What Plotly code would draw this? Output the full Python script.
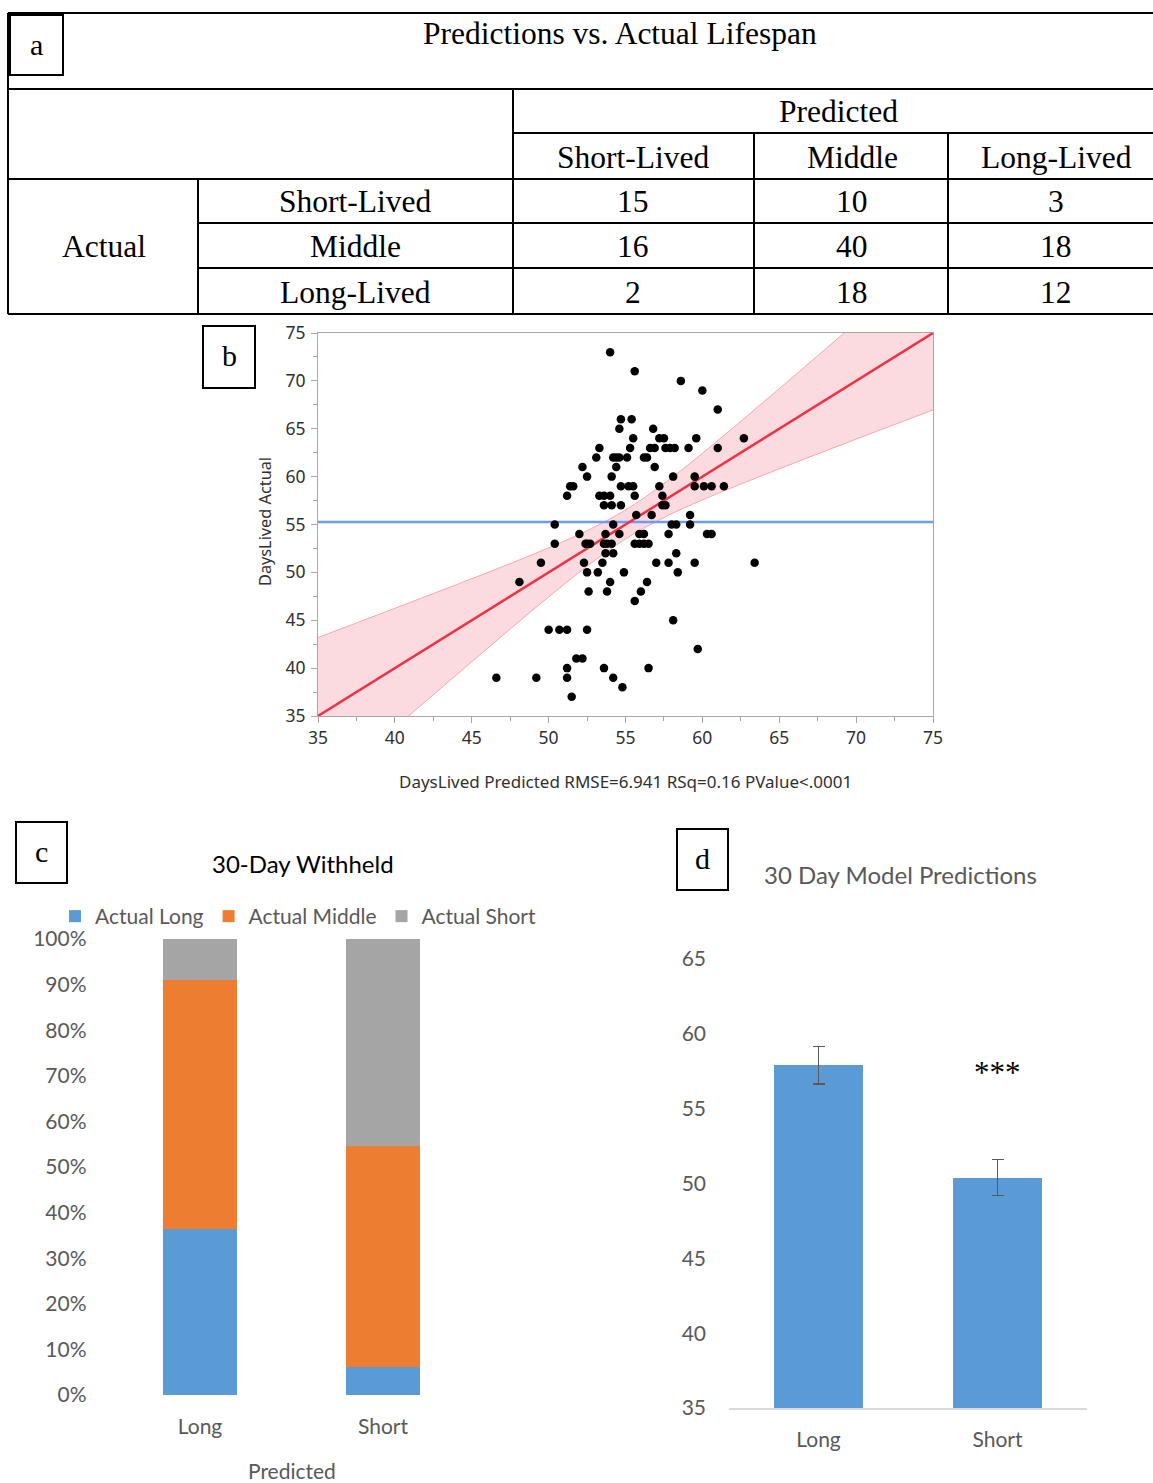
import plotly.graph_objects as go

W, H = 1153, 1483

# ---------------- data ----------------
table_title = "Predictions vs. Actual Lifespan"
pred_classes = ["Short-Lived", "Middle", "Long-Lived"]
actual_classes = ["Short-Lived", "Middle", "Long-Lived"]
row_actual_short = [15, 10, 3]
row_actual_middle = [16, 40, 18]
row_actual_long = [2, 18, 12]

scatter_pred = [
    54.0, 55.6, 58.6, 60.0, 61.0,
    54.7, 55.4,
    54.6, 56.8,
    55.5, 57.2, 57.5, 59.6, 62.7,
    53.3, 55.3, 56.6, 56.9, 57.6, 57.9, 58.2, 59.1, 61.0,
    53.1, 54.2, 54.4, 54.6, 55.1, 56.2, 56.4,
    52.2, 54.4, 56.9,
    52.5, 54.1, 58.1, 59.5,
    51.4, 51.6, 54.7, 55.2, 55.5, 57.2, 59.5, 60.1, 60.6, 61.4,
    51.2, 53.3, 53.6, 54.0, 55.6, 57.4,
    53.6, 54.1, 54.7, 57.4, 57.6,
    55.7, 56.7, 59.2,
    50.4, 54.2, 58.0, 58.3, 59.2,
    52.0, 53.7, 54.6, 55.9, 56.2, 57.8, 60.3, 60.6,
    50.4, 52.4, 52.5, 52.7, 53.6, 53.8, 54.1, 55.6, 55.9, 56.2, 56.5,
    53.7, 54.2, 58.3,
    49.5, 52.3, 53.5, 57.0, 57.8, 59.5, 63.4,
    52.5, 53.2, 54.9, 58.4,
    48.1, 54.0, 56.4,
    52.6, 53.8, 56.0,
    55.6,
    58.1,
    50.0, 50.7, 51.2, 52.5,
    59.7,
    51.8, 52.2,
    51.2, 53.6, 56.5,
    46.6, 49.2, 51.2, 54.2,
    54.8,
    51.5,
]
scatter_actual = [
    73, 71, 70, 69, 67,
    66, 66,
    65, 65,
    64, 64, 64, 64, 64,
    63, 63, 63, 63, 63, 63, 63, 63, 63,
    62, 62, 62, 62, 62, 62, 62,
    61, 61, 61,
    60, 60, 60, 60,
    59, 59, 59, 59, 59, 59, 59, 59, 59, 59,
    58, 58, 58, 58, 58, 58,
    57, 57, 57, 57, 57,
    56, 56, 56,
    55, 55, 55, 55, 55,
    54, 54, 54, 54, 54, 54, 54, 54,
    53, 53, 53, 53, 53, 53, 53, 53, 53, 53, 53,
    52, 52, 52,
    51, 51, 51, 51, 51, 51, 51,
    50, 50, 50, 50,
    49, 49, 49,
    48, 48, 48,
    47,
    45,
    44, 44, 44, 44,
    42,
    41, 41,
    40, 40, 40,
    39, 39, 39, 39,
    38,
    37,
]
mean_actual = 55.25
fit_x = [35, 75]
fit_y = [35, 75]
band_x = [35, 37.5, 40, 42.5, 45, 47.5, 50, 52.5, 55, 57.5, 60, 62.5, 65, 67.5, 70, 72.5, 75]
band_upper = [43.20, 44.72, 46.25, 47.79, 49.34, 50.92, 52.57, 54.36, 56.52, 59.27,
              62.44, 65.78, 69.19, 72.63, 76.09, 79.56, 83.04]
band_lower = [26.80, 30.28, 33.75, 37.21, 40.66, 44.08, 47.43, 50.64, 53.48, 55.73,
              57.56, 59.22, 60.81, 62.37, 63.91, 65.44, 66.96]
scatter_xtitle = "DaysLived Predicted RMSE=6.941 RSq=0.16 PValue<.0001"
scatter_ytitle = "DaysLived Actual"

withheld_categories = ["Long", "Short"]
withheld_actual_long = [12, 2]
withheld_actual_middle = [18, 16]
withheld_actual_short = [3, 15]

model_categories = ["Long", "Short"]
model_means = [57.9, 50.4]
model_errors = [1.25, 1.2]

# ---------------- helpers ----------------
def px(x):
    return x / W

def py(y):
    return 1 - y / H

SERIF = "Liberation Serif"
SANS = "Lato"
GREY_TXT = "#595959"
BLUE = "#5B9BD5"
ORANGE = "#ED7D31"
GREY = "#A5A5A5"

fig = go.Figure()
shapes = []
annotations = []

def hline(x0, x1, y, width=2):
    shapes.append(dict(type="line", xref="paper", yref="paper",
                       x0=px(x0), x1=px(x1), y0=py(y), y1=py(y),
                       line=dict(color="black", width=width)))

def vline(x, y0, y1, width=2):
    shapes.append(dict(type="line", xref="paper", yref="paper",
                       x0=px(x), x1=px(x), y0=py(y0), y1=py(y1),
                       line=dict(color="black", width=width)))

def text(x, y, s, size=31.5, family=SERIF, color="black", xanchor="center"):
    annotations.append(dict(xref="paper", yref="paper", x=px(x), y=py(y), text=s,
                            showarrow=False, xanchor=xanchor, yanchor="middle",
                            font=dict(family=family, size=size, color=color)))

def letter_box(x0, y0, x1, y1, letter):
    shapes.append(dict(type="rect", xref="paper", yref="paper",
                       x0=px(x0), x1=px(x1), y0=py(y1), y1=py(y0),
                       line=dict(color="black", width=2)))
    text((x0 + x1) / 2, (y0 + y1) / 2 - 1, letter, size=30)

# ---------------- panel a: table ----------------
R = W
hline(8, R, 13)
hline(8, R, 89)
hline(513, R, 133)
hline(8, R, 179)
hline(198, R, 223)
hline(198, R, 268)
hline(8, R, 314)
vline(8, 13, 314)
vline(513, 89, 314)
vline(754, 133, 314)
vline(948, 133, 314)
vline(198, 179, 314)
letter_box(10, 15, 63, 75, "a")
text(620, 34, table_title)
text(838, 112, "Predicted")
col_x = [633, 852, 1056]
for cx, lab in zip(col_x, pred_classes):
    text(cx, 157, lab)
row_y = [202, 247, 292]
for ry, lab in zip(row_y, actual_classes):
    text(355, ry, lab)
text(104, 247, "Actual")
for ry, row in zip(row_y, [row_actual_short, row_actual_middle, row_actual_long]):
    for cx, v in zip(col_x, row):
        text(cx, ry, str(v))

# ---------------- panel b: scatter ----------------
fig.add_trace(go.Scatter(
    x=band_x, y=band_lower, mode="lines",
    line=dict(color="rgba(240,110,120,0.55)", width=1, shape="spline"),
    hoverinfo="skip", showlegend=False, xaxis="x", yaxis="y"))
fig.add_trace(go.Scatter(
    x=band_x, y=band_upper, mode="lines", fill="tonexty",
    fillcolor="rgba(248,170,180,0.42)",
    line=dict(color="rgba(240,110,120,0.55)", width=1, shape="spline"),
    hoverinfo="skip", showlegend=False, xaxis="x", yaxis="y"))
fig.add_trace(go.Scatter(
    x=[35, 75], y=[mean_actual, mean_actual], mode="lines",
    line=dict(color="#6E9BF0", width=2.5), showlegend=False, xaxis="x", yaxis="y"))
fig.add_trace(go.Scatter(
    x=fit_x, y=fit_y, mode="lines",
    line=dict(color="#EE3344", width=2.5), showlegend=False, xaxis="x", yaxis="y"))
fig.add_trace(go.Scatter(
    x=scatter_pred, y=scatter_actual, mode="markers",
    marker=dict(color="black", size=8.5), showlegend=False, xaxis="x", yaxis="y",
    cliponaxis=False))

axis_b = dict(range=[35, 75], dtick=5, tick0=35, showgrid=False, zeroline=False,
              showline=True, linecolor="#A8A8A8", linewidth=1, mirror=True,
              ticks="outside", ticklen=6, tickcolor="#A8A8A8", automargin=False,
              minor=dict(ticks="outside", dtick=2.5, ticklen=4, tickcolor="#A8A8A8"),
              tickfont=dict(family="Noto Sans", size=17.5, color="#303030"))
fig.update_layout(
    xaxis=dict(axis_b, domain=[px(318), px(933)], anchor="y", ticklabelstandoff=0),
    yaxis=dict(axis_b, domain=[py(716), py(333)], anchor="x", ticklabelstandoff=2),
)
letter_box(203, 326, 255, 388, "b")
annotations.append(dict(xref="paper", yref="paper", x=px(265), y=py(522), text=scatter_ytitle,
                        textangle=-90, showarrow=False, xanchor="center", yanchor="middle",
                        font=dict(family="Noto Sans", size=16.3, color="#303030")))
text(625, 781, scatter_xtitle, size=17, family="Noto Sans", color="#303030")

# ---------------- panel c: 100% stacked bars ----------------
totals = [a + b + c for a, b, c in zip(withheld_actual_long, withheld_actual_middle, withheld_actual_short)]
pct_long = [v / t * 100 for v, t in zip(withheld_actual_long, totals)]
pct_mid = [v / t * 100 for v, t in zip(withheld_actual_middle, totals)]
pct_short = [v / t * 100 for v, t in zip(withheld_actual_short, totals)]
for name, vals, col in [("Actual Long", pct_long, BLUE),
                        ("Actual Middle", pct_mid, ORANGE),
                        ("Actual Short", pct_short, GREY)]:
    fig.add_trace(go.Bar(x=withheld_categories, y=vals, name=name, marker_color=col,
                         marker_line_width=0, width=0.4, xaxis="x2", yaxis="y2"))

fig.update_layout(
    xaxis2=dict(domain=[px(108.5), px(474.5)], anchor="y2", showline=False, showgrid=False,
                ticks="", ticklabelstandoff=17, automargin=False,
                tickfont=dict(family=SANS, size=21, color=GREY_TXT)),
    yaxis2=dict(domain=[py(1395), py(939)], anchor="x2", range=[0, 100], dtick=10,
                ticksuffix="%", showgrid=False, showline=False, zeroline=False, ticks="",
                ticklabelstandoff=21, automargin=False,
                tickfont=dict(family=SANS, size=21, color=GREY_TXT)),
)
letter_box(16, 822, 67, 883, "c")
text(303, 863, "30-Day Withheld", size=24, family=SANS, color="black")
text(292, 1470, "Predicted", size=21, family=SANS, color=GREY_TXT)

# ---------------- panel d: bars with error bars ----------------
fig.add_trace(go.Bar(x=model_categories, y=model_means, width=0.5, marker_color=BLUE,
                     marker_line_width=0, showlegend=False,
                     error_y=dict(type="data", array=model_errors, color=GREY_TXT,
                                  thickness=1.5, width=6),
                     xaxis="x3", yaxis="y3"))
fig.update_layout(
    xaxis3=dict(domain=[px(729), px(1087)], anchor="y3", showline=True, linecolor="#D9D9D9",
                linewidth=1.5, showgrid=False, ticks="", ticklabelstandoff=12, automargin=False,
                tickfont=dict(family=SANS, size=21, color=GREY_TXT)),
    yaxis3=dict(domain=[py(1408), py(959)], anchor="x3", range=[35, 65], dtick=5,
                showgrid=False, showline=False, zeroline=False, ticks="",
                ticklabelstandoff=22, automargin=False,
                tickfont=dict(family=SANS, size=21, color=GREY_TXT)),
)
letter_box(677, 829, 728, 890, "d")
text(900, 874, "30 Day Model Predictions", size=24, family=SANS, color=GREY_TXT)
annotations.append(dict(xref="x3", yref="y3", x="Short", y=57.4, text="***",
                        showarrow=False, xanchor="center", yanchor="middle",
                        font=dict(family=SERIF, size=31, color="black")))

fig.update_layout(
    width=W, height=H, margin=dict(l=0, r=0, t=0, b=0, pad=0, autoexpand=False),
    paper_bgcolor="white", plot_bgcolor="white",
    barmode="stack", showlegend=True,
    legend=dict(orientation="h", x=px(55), y=py(896), xanchor="left", yanchor="top",
                traceorder="normal",
                font=dict(family=SANS, size=21, color=GREY_TXT),
                itemwidth=30, tracegroupgap=0, bgcolor="rgba(0,0,0,0)"),
    shapes=shapes, annotations=annotations,
)

fig.write_html("out.html")
